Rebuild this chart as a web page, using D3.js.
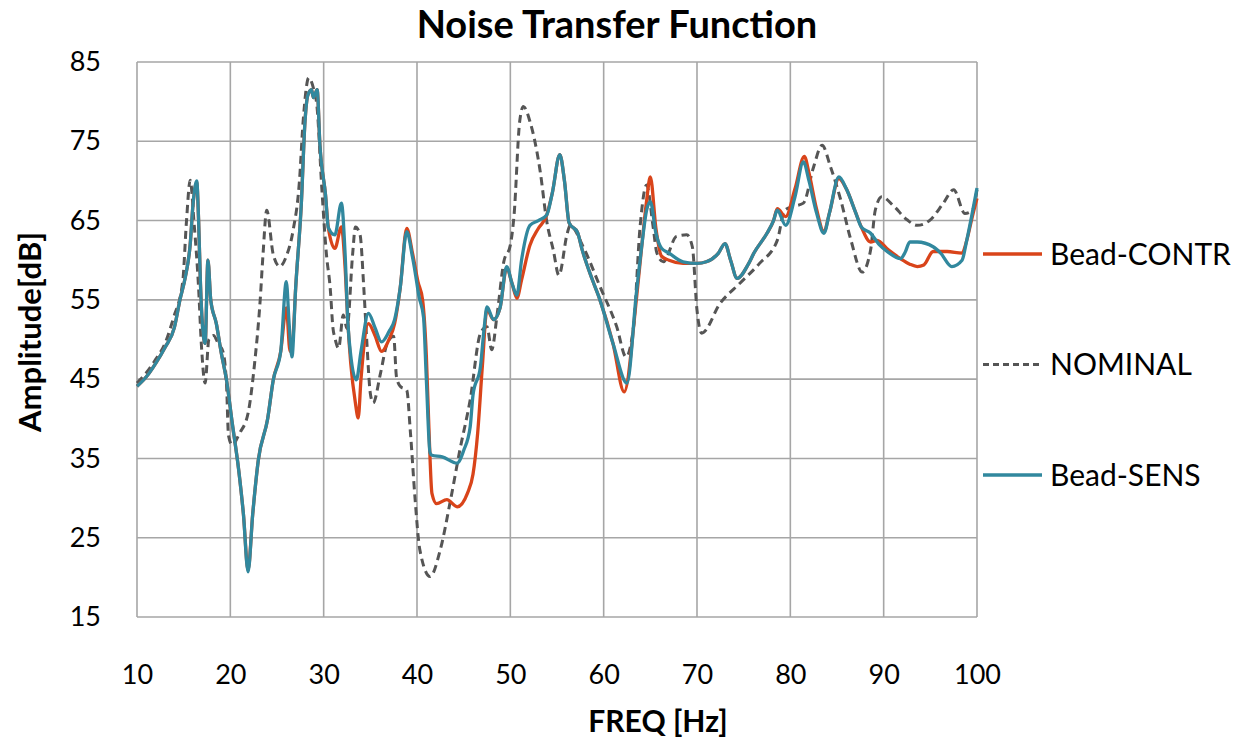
<!DOCTYPE html>
<html>
<head>
<meta charset="utf-8">
<style>
    body { margin: 0; background: #fff; }
    svg text { font-family: Lato, "Open Sans", sans-serif; fill: #000; }
</style>
</head>
<body>
<svg id="chart" width="1244" height="740"></svg>
<script src="https://cdnjs.cloudflare.com/ajax/libs/d3/7.8.5/d3.min.js"></script>
<script>
    // Bead-CONTR (red)
    let contrFreq = [10, 11, 12, 13, 14, 14.6, 15.2, 15.7, 16.0, 16.4, 16.6, 16.8, 17.0, 17.3, 17.6, 17.9, 18.5, 19.0, 19.6, 20.2, 20.9, 21.4, 21.9, 22.4, 23.0, 24.0, 24.6, 25.4, 26.0, 26.4, 26.7, 27.0, 27.6, 28.0, 28.3, 28.7, 28.9, 29.3, 29.6, 30.2, 30.5, 31.2, 31.9, 32.3, 32.6, 32.9, 33.4, 33.7, 34.0, 34.8, 35.5, 36.2, 37.0, 37.6, 38.2, 38.9, 39.5, 40.1, 40.6, 41.0, 41.3, 41.6, 42.1, 43.2, 44.3, 45.4, 46.0, 46.5, 47.0, 47.5, 48.2, 48.9, 49.6, 50.2, 50.7, 51.2, 52.1, 53.0, 53.9, 54.5, 55.3, 55.8, 56.3, 57.2, 57.7, 58.8, 59.6, 61.0, 62.2, 63.5, 64.1, 64.6, 65.0, 65.6, 66.2, 67.0, 68.5, 70.0, 71.0, 72.3, 73.0, 73.6, 74.3, 75.5, 76.1, 77.5, 78.2, 78.6, 79.5, 80.5, 81.5, 82.0, 82.8, 83.6, 84.2, 85.2, 86.0, 87.0, 87.6, 88.6, 89.3, 90.5, 91.8, 92.8, 93.6, 94.3, 95.3, 96.8, 98.4, 98.9, 99.5, 100]
    let contrDb = [44.1, 45.3, 47, 49, 51.5, 55, 58, 62, 67, 69.8, 65, 57, 52, 49.5, 60, 55, 52, 48.5, 44.8, 39.5, 33.5, 28, 20.9, 28, 34.8, 40, 44.9, 48.5, 54, 48.5, 50, 56.5, 67, 77.5, 80.8, 81.5, 80.5, 81.5, 74.5, 68.2, 64.1, 61.5, 64.2, 59, 52, 47, 42, 40.1, 45, 52, 50.5, 48.5, 50, 52, 56.5, 64, 61, 57.3, 55, 48, 38, 30.6, 29.3, 29.8, 28.9, 30.6, 33, 38.2, 46.6, 53.8, 52.5, 54, 59, 57, 55.2, 57.5, 61.9, 64, 65.7, 68.5, 73.3, 70, 64.7, 63.5, 61.3, 57.5, 55, 49.5, 43.4, 55, 62, 67.5, 70.5, 64, 60.5, 60, 59.6, 59.6, 59.8, 60.9, 62.1, 60, 57.7, 59.5, 60.9, 63.4, 65, 66.5, 65.5, 69, 73.1, 71, 66.5, 63.6, 66, 70.3, 69, 66, 64.2, 62.3, 62.5, 61.3, 60.2, 59.5, 59.2, 59.4, 61.1, 61.1, 60.9, 62.5, 65.5, 67.8]

    // NOMINAL (dashed grey)
    let nomFreq = [10, 11, 12, 13, 13.9, 14.9, 15.3, 15.7, 16.1, 16.6, 16.9, 17.3, 17.7, 18.2, 18.7, 19.2, 19.6, 19.8, 20.2, 21.0, 21.9, 22.6, 23.2, 23.5, 23.9, 24.6, 25.3, 26.0, 26.7, 27.4, 27.8, 28.4, 28.9, 29.3, 29.8, 30.3, 30.7, 31.0, 31.2, 31.6, 32.1, 32.5, 33.1, 33.4, 33.9, 34.3, 34.6, 35.0, 35.3, 36.1, 36.8, 37.5, 37.8, 38.2, 38.9, 39.3, 39.8, 40.3, 41.4, 42.5, 43.6, 44.6, 45.7, 46.8, 47.5, 48.0, 48.6, 49.3, 50.0, 50.4, 51.0, 51.4, 52.1, 53.2, 53.9, 54.6, 55.2, 56.1, 56.4, 57.8, 59.6, 61.4, 62.4, 63.2, 63.9, 64.6, 65.3, 65.7, 66.4, 67.8, 68.9, 69.5, 70.0, 70.5, 72.5, 74.6, 76.7, 78.6, 79.4, 80.4, 81.4, 82.5, 83.4, 84.3, 85.4, 86.5, 87.7, 88.6, 89.1, 89.8, 91.1, 92.5, 93.6, 95.0, 96.4, 97.5, 98.7, 99.5, 100]
    let nomDb = [44.5, 45.8, 47.5, 49.5, 52.7, 57.3, 64.9, 70.1, 64.9, 56.5, 49.3, 44.5, 50, 50.5, 49.5, 48.5, 44.1, 37.9, 36.7, 38.2, 40.7, 47, 55, 60.7, 66.3, 60.7, 59.2, 60.5, 63.6, 69.9, 77.5, 83, 81.7, 79.2, 69.1, 60.7, 56.5, 51.4, 50.2, 48.9, 53.1, 51.4, 60.7, 64.2, 63.2, 56.5, 50.2, 43.2, 42.0, 45.8, 49.5, 50.4, 45.3, 44.1, 43.6, 38.2, 29.8, 23.5, 20.1, 23.5, 29.8, 36.1, 42.4, 50.8, 51.6, 48.7, 53.3, 59.8, 61.9, 65.7, 77.5, 79.4, 77.5, 71.2, 64.9, 61.3, 58.1, 63.4, 64.4, 61.7, 56.7, 51.6, 47.8, 51.6, 64.2, 69.5, 64.2, 60.9, 59.8, 63.0, 63.2, 61.7, 53.7, 50.8, 54.6, 57.1, 59.6, 62.5, 66.3, 66.8, 67.2, 71.8, 74.5, 71.8, 67.6, 62.5, 58.5, 61.3, 66.3, 68.0, 66.8, 65.1, 64.4, 65.1, 67.2, 68.9, 65.9, 66.3, 68.9]

    // Bead-SENS (teal)
    let sensFreq = [10, 11, 12, 13, 14, 14.6, 15.2, 15.7, 16.0, 16.4, 16.6, 16.8, 17.0, 17.3, 17.6, 17.9, 18.5, 19.0, 19.6, 20.2, 20.9, 21.4, 21.9, 22.4, 23.0, 24.0, 24.6, 25.4, 26.0, 26.3, 26.6, 27.0, 27.6, 28.0, 28.3, 28.7, 28.9, 29.3, 29.6, 30.2, 30.5, 31.2, 31.9, 32.3, 32.6, 32.9, 33.5, 34.0, 34.8, 35.5, 36.2, 37.0, 37.6, 38.2, 38.9, 39.5, 39.8, 40.2, 40.7, 41.0, 41.4, 41.6, 42.7, 44.3, 45.0, 45.7, 46.0, 46.8, 47.2, 47.5, 48.2, 48.9, 49.6, 50.2, 50.7, 51.2, 52.1, 53.0, 53.9, 54.5, 55.3, 55.8, 56.3, 57.2, 57.7, 58.8, 59.6, 61.0, 62.5, 63.5, 64.1, 64.6, 65.0, 65.6, 66.2, 67.0, 68.5, 70.0, 71.0, 72.3, 73.0, 73.6, 74.3, 75.5, 76.1, 77.5, 78.2, 78.6, 79.5, 80.5, 81.4, 82.0, 82.8, 83.6, 84.2, 85.2, 86.0, 87.0, 87.6, 88.6, 89.5, 90.5, 91.8, 92.3, 92.8, 93.6, 95.3, 96.1, 97.3, 98.4, 98.9, 99.5, 100]
    let sensDb = [44.1, 45.3, 47, 49, 51.5, 55, 58, 62, 67, 70, 65, 57, 52, 49.5, 60, 55, 52, 48.5, 44.8, 39.5, 33.5, 28, 20.7, 28, 34.8, 40, 44.9, 48.5, 57.3, 52, 47.8, 56.5, 67, 77.5, 80.8, 81.5, 80.5, 81.5, 74.5, 68.2, 64.1, 63.2, 67.2, 60.7, 52, 48, 44.9, 48.5, 53.3, 51.5, 49.7, 51, 52.5, 56.5, 63.6, 60.5, 58.5, 55.5, 52.8, 45, 35.7, 35.4, 35.2, 34.4, 36, 39, 43, 46.6, 51.5, 54.1, 52.5, 54, 59.2, 57, 55.6, 60, 64.4, 65, 65.7, 68.5, 73.3, 70, 64.7, 63.5, 61.3, 57.5, 55, 49.5, 44.5, 55.8, 62, 66.3, 67.4, 63.4, 61.5, 60.9, 59.8, 59.6, 59.8, 60.9, 62.1, 60, 57.7, 59.5, 60.9, 63.4, 65, 66.3, 64.4, 68, 72.4, 70, 66, 63.4, 66, 70.5, 69, 66, 64.2, 63.4, 62, 61, 60.2, 61, 62.3, 62.3, 61.7, 60.9, 59.2, 60, 62.5, 66, 69.1]

    let xTicks = [10, 20, 30, 40, 50, 60, 70, 80, 90, 100]
    let yTicks = [15, 25, 35, 45, 55, 65, 75, 85]
    let seriesNames = ["Bead-CONTR", "NOMINAL", "Bead-SENS"]

    let plotLeft = 137, plotRight = 977, plotTop = 62, plotBottom = 617
    let svg = d3.select("#chart")

    let xScale = d3.scaleLinear().domain([10, 100]).range([plotLeft, plotRight])
    let yScale = d3.scaleLinear().domain([15, 85]).range([plotBottom, plotTop])

    // grid
    let grid = svg.append("g")
    grid.selectAll(".vg").data(xTicks).enter().append("line")
        .attr("x1", d => xScale(d)).attr("x2", d => xScale(d))
        .attr("y1", plotTop).attr("y2", plotBottom)
        .attr("stroke", "#a6a6a6").attr("stroke-width", 1.6)
    grid.selectAll(".hg").data(yTicks).enter().append("line")
        .attr("x1", plotLeft).attr("x2", plotRight)
        .attr("y1", d => yScale(d)).attr("y2", d => yScale(d))
        .attr("stroke", "#a6a6a6").attr("stroke-width", 1.6)

    // axes (labels only, grid already drawn)
    let xAxis = svg.append("g")
        .attr("transform", `translate(0, ${plotBottom + 37})`)
        .call(d3.axisBottom(xScale).tickValues(xTicks).tickSize(0).tickPadding(10))
    let yAxis = svg.append("g")
        .attr("transform", `translate(${plotLeft - 36}, 0)`)
        .call(d3.axisLeft(yScale).tickValues(yTicks).tickSize(0).tickPadding(0))
    svg.selectAll(".domain").remove()
    svg.selectAll(".tick text")
        .style("font-family", "Lato, sans-serif")
        .style("font-size", "27px")
        .attr("fill", "#000")
    xAxis.selectAll(".tick text").attr("dy", "0.75em")

    // lines
    let line = d3.line().x(d => xScale(d[0])).y(d => yScale(d[1])).curve(d3.curveMonotoneX)
    let series = [
        { name: seriesNames[0], pts: d3.zip(contrFreq, contrDb), color: "#d9441a", dash: null, w: 3.3 },
        { name: seriesNames[1], pts: d3.zip(nomFreq, nomDb), color: "#555555", dash: "8,5", w: 3 },
        { name: seriesNames[2], pts: d3.zip(sensFreq, sensDb), color: "#31889e", dash: null, w: 3.3 },
    ]
    let drawOrder = [series[1], series[0], series[2]]
    svg.append("g").selectAll("path").data(drawOrder).enter().append("path")
        .attr("d", d => line(d.pts))
        .attr("fill", "none")
        .attr("stroke", d => d.color)
        .attr("stroke-width", d => d.w)
        .attr("stroke-dasharray", d => d.dash)
        .attr("stroke-linejoin", "round")

    // legend
    let legend = svg.append("g").selectAll("g").data(series).enter().append("g")
        .attr("transform", (d, i) => `translate(983, ${254 + i * 110.5})`)
    legend.append("line")
        .attr("x1", 0).attr("x2", 59).attr("y1", 0).attr("y2", 0)
        .attr("stroke", d => d.color)
        .attr("stroke-width", d => d.w)
        .attr("stroke-dasharray", d => d.dash ? "6,4" : null)
    legend.append("text")
        .attr("x", 67).attr("y", 0).attr("dy", "0.35em")
        .style("font-size", "30px")
        .text(d => d.name)

    // titles
    svg.append("text")
        .attr("x", 617).attr("y", 38)
        .attr("text-anchor", "middle")
        .style("font-size", "38px").style("font-weight", "bold")
        .text("Noise Transfer Function")
    svg.append("text")
        .attr("x", 658).attr("y", 732)
        .attr("text-anchor", "middle")
        .style("font-size", "30px").style("font-weight", "bold")
        .text("FREQ [Hz]")
    svg.append("text")
        .attr("transform", "translate(41, 332) rotate(-90)")
        .attr("text-anchor", "middle")
        .style("font-size", "31px").style("font-weight", "bold")
        .text("Amplitude[dB]")
</script>
</body>
</html>
